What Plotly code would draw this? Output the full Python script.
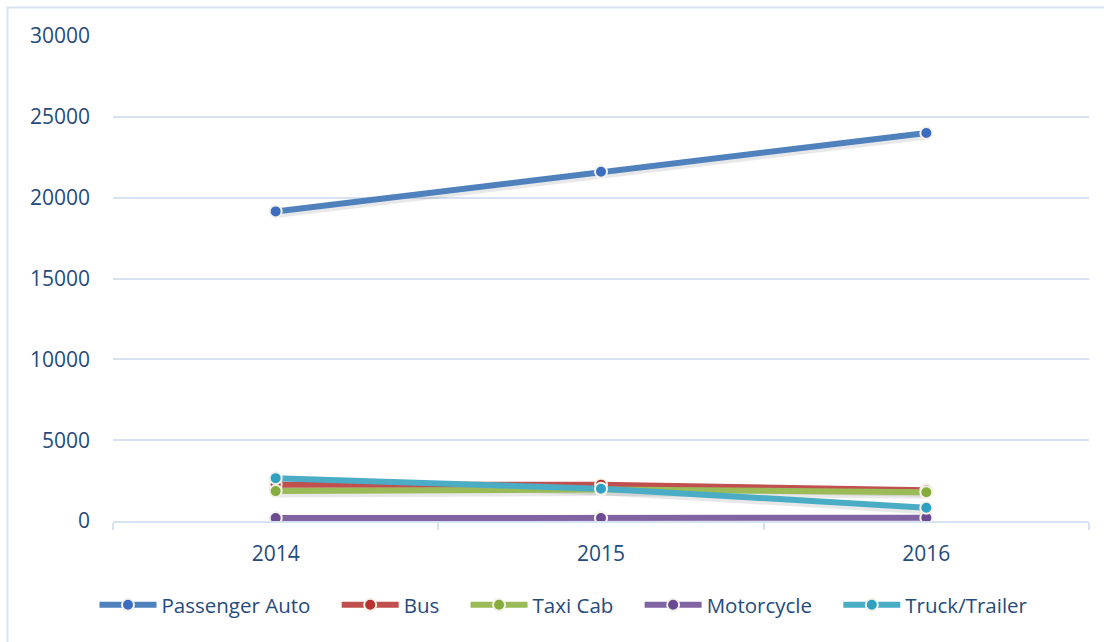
import plotly.graph_objects as go

# Registered vehicles by type, 2014-2016
years = ["2014", "2015", "2016"]
passenger_auto = [19150, 21600, 24000]
bus = [2250, 2250, 1900]
taxi_cab = [1850, 1950, 1780]
motorcycle = [180, 180, 200]
truck_trailer = [2650, 2000, 820]

series = [
    ("Passenger Auto", passenger_auto, "#4F81BD", "#3B6CC0"),
    ("Bus", bus, "#C0504D", "#B8322F"),
    ("Taxi Cab", taxi_cab, "#9BBB59", "#86AC3C"),
    ("Motorcycle", motorcycle, "#8064A2", "#6B4A93"),
    ("Truck/Trailer", truck_trailer, "#4BACC6", "#2EA1C2"),
]

W, H = 1104, 642
L, R, T, B = 113, 15, 36, 121
plot_w, plot_h = W - L - R, H - T - B
y_max = 30000
shadow_shift = 2.5 * y_max / plot_h  # a soft drop shadow a few pixels below each line
legend_pad = "\u00a0" * 4            # extra breathing room between legend entries

fig = go.Figure()

# drop shadows under the lines
for name, vals, line_c, mark_c in series:
    fig.add_trace(go.Scatter(
        x=years, y=[v - shadow_shift for v in vals], mode="lines",
        line=dict(color="rgba(0,0,0,0.09)", width=8),
        showlegend=False, hoverinfo="skip",
    ))

for name, vals, line_c, mark_c in series:
    fig.add_trace(go.Scatter(
        x=years, y=vals, name=name + legend_pad, mode="lines+markers",
        line=dict(color=line_c, width=6),
        marker=dict(size=12, color=mark_c, line=dict(color="#F4F1E8", width=2)),
    ))

text_col = "#254B7D"
grid_col = "#D6E1F1"

fig.update_layout(
    width=W, height=H,
    margin=dict(l=L, r=R, t=T, b=B),
    paper_bgcolor="white", plot_bgcolor="white",
    font=dict(family="Open Sans", size=21, color=text_col),
    showlegend=True,
    legend=dict(
        orientation="h", x=0.5 - 27 / plot_w, xanchor="center",
        y=(T + plot_h - 605) / plot_h, yanchor="middle",
        font=dict(size=20.5, color=text_col),
        itemwidth=57, traceorder="normal",
    ),
    xaxis=dict(
        type="category", range=[-0.5, 2.5],
        showgrid=False, showline=True, linecolor=grid_col, linewidth=2,
        ticks="outside", tickson="boundaries", ticklen=7, tickwidth=2, tickcolor=grid_col,
        ticklabelstandoff=13,
        tickfont=dict(size=21, color=text_col),
    ),
    yaxis=dict(
        range=[0, y_max], tick0=0, dtick=5000, tickformat="d",
        showgrid=True, gridcolor=grid_col, gridwidth=2,
        zeroline=False, showline=False,
        ticklabelstandoff=22,
        tickfont=dict(size=21, color=text_col),
    ),
    shapes=[dict(
        type="rect", xref="paper", yref="paper",
        x0=(7.5 - L) / plot_w, x1=1.2,
        y0=-0.4, y1=1 + (T - 7.5) / plot_h,
        line=dict(color=grid_col, width=2), layer="below",
    )],
)

fig.write_html("out.html")
